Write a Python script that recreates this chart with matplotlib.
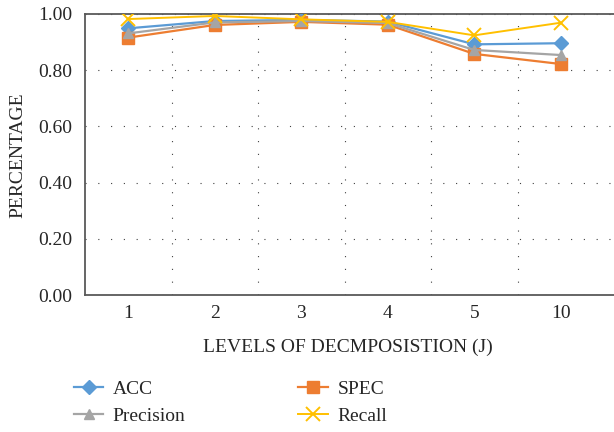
import matplotlib
matplotlib.use('Agg')
import matplotlib.pyplot as plt
from matplotlib.lines import Line2D

plt.rcParams['font.family'] = ['Liberation Serif', 'DejaVu Serif']

# ── data ──
levels = ['1', '2', '3', '4', '5', '10']
acc = [0.949, 0.975, 0.979, 0.973, 0.892, 0.896]
spec = [0.916, 0.961, 0.972, 0.962, 0.858, 0.822]
precision = [0.931, 0.970, 0.975, 0.968, 0.872, 0.854]
recall = [0.982, 0.993, 0.981, 0.972, 0.924, 0.969]
y_ticks = [0.0, 0.2, 0.4, 0.6, 0.8, 1.0]

c_acc, c_spec, c_prec, c_rec = '#5B9BD5', '#ED7D31', '#A5A5A5', '#FFC000'
txt = '#262626'
fs = 14

fig = plt.figure(figsize=(6.14, 4.32), dpi=100)
# plot area runs past the right edge of the picture (cropped in the original)
ax = fig.add_axes([85 / 614, 1 - 295 / 432, 540 / 614, 281 / 432])

x = list(range(len(levels)))
ax.plot(x, acc, color=c_acc, lw=1.6, marker='D', ms=7.5, mec=c_acc, mfc=c_acc, zorder=3)
ax.plot(x, spec, color=c_spec, lw=1.6, marker='s', ms=9, mec=c_spec, mfc=c_spec, zorder=3)
ax.plot(x, precision, color=c_prec, lw=1.6, marker='^', ms=6.5, mec=c_prec, mfc=c_prec, zorder=3)
ax.plot(x, recall, color=c_rec, lw=1.4, marker='x', ms=10, mew=1.4, mec=c_rec, zorder=3)

ax.set_ylim(0, 1.0)
ax.set_xlim(-0.5, -0.5 + 540 / 86.5)
ax.set_yticks(y_ticks)
ax.set_yticklabels([f'{v:.2f}' for v in y_ticks], fontsize=fs, color=txt)
ax.set_xticks(x)
ax.set_xticklabels(levels, fontsize=fs, color=txt)
ax.set_xticks([i + 0.5 for i in range(len(levels) - 1)], minor=True)
ax.tick_params(which='both', length=0)
ax.tick_params(axis='y', pad=9)
ax.tick_params(axis='x', pad=7)

dots = (0, (1, 10.5))
ax.grid(axis='y', which='major', color='#404040', lw=0.8, linestyle=dots)
ax.grid(axis='x', which='minor', color='#404040', lw=0.8, linestyle=dots)
ax.grid(axis='x', which='major', visible=False)

for side in ['left', 'top', 'bottom']:
    ax.spines[side].set_color('#595959')
    ax.spines[side].set_linewidth(1.3)
ax.spines['right'].set_visible(False)

fig.text(18 / 614, 1 - 155 / 432, 'PERCENTAGE', rotation=90, ha='center', va='center',
         fontsize=fs, color=txt)
fig.text(348 / 614, 1 - 347 / 432, 'LEVELS OF DECMPOSISTION (J)', ha='center', va='center',
         fontsize=fs, color=txt)

handles = [
    Line2D([], [], color=c_acc, lw=1.6, marker='D', ms=7.5, mfc=c_acc, mec=c_acc),
    Line2D([], [], color=c_prec, lw=1.6, marker='^', ms=6.5, mfc=c_prec, mec=c_prec),
    Line2D([], [], color=c_spec, lw=1.6, marker='s', ms=9, mfc=c_spec, mec=c_spec),
    Line2D([], [], color=c_rec, lw=1.4, marker='x', ms=10, mew=1.4, mec=c_rec),
]
labels = ['ACC', 'Precision', 'SPEC', 'Recall']
leg = fig.legend(handles, labels, ncol=2, loc='upper left', bbox_to_anchor=(74 / 614, 1 - 380 / 432),
                 frameon=False, fontsize=fs, handlelength=1.5, handletextpad=0.5,
                 columnspacing=5.8, labelspacing=0.5, borderpad=0, borderaxespad=0)
for t in leg.get_texts():
    t.set_color(txt)

fig.savefig('out.png', dpi=100, facecolor='white')
